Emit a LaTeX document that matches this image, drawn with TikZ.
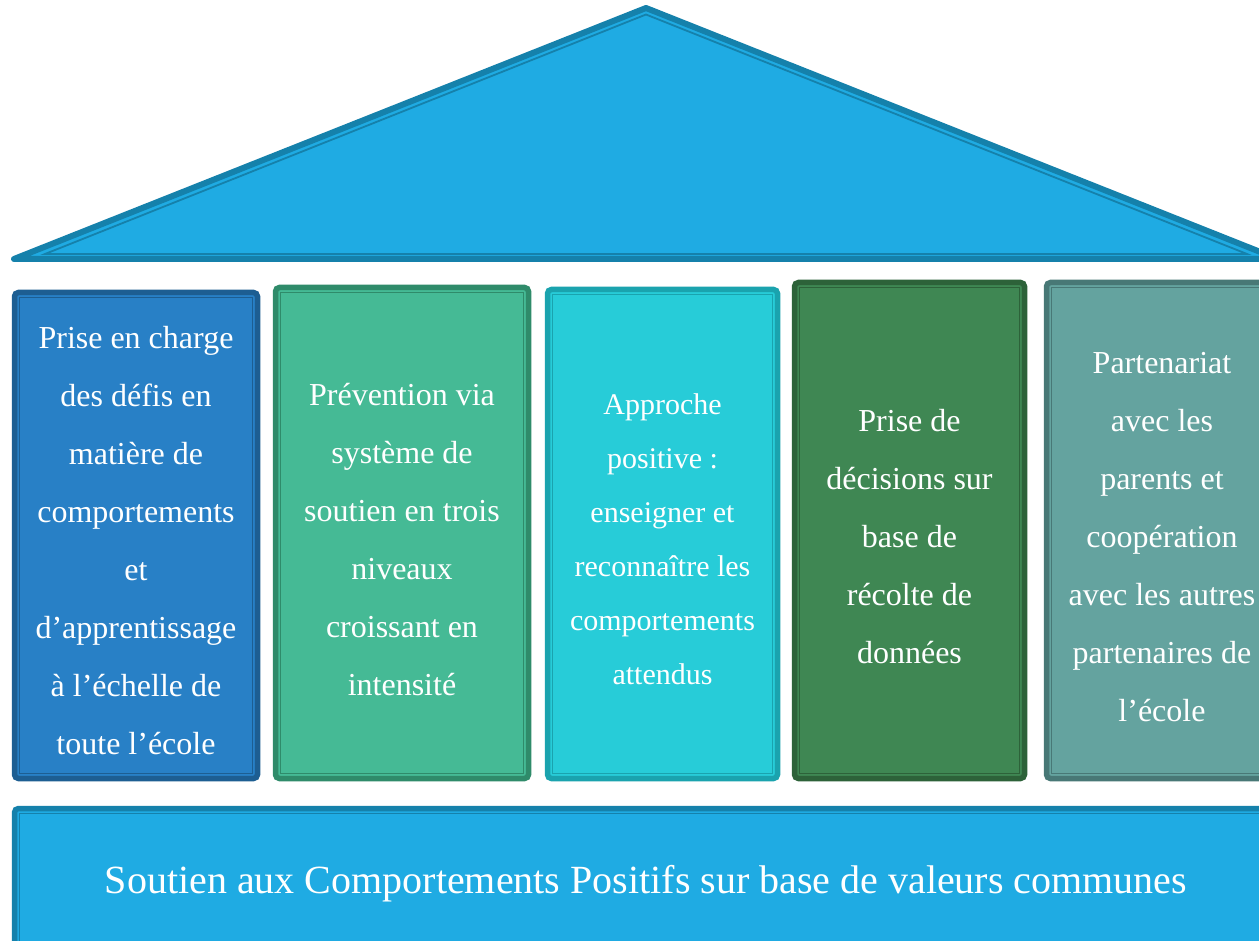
\documentclass[tikz,border=0pt]{standalone}
\usepackage{fontspec}
\setmainfont{Liberation Serif}
\definecolor{roofF}{HTML}{1FABE3}
\definecolor{roofD}{HTML}{1581AB}
\definecolor{aF}{HTML}{2880C6}
\definecolor{aD}{HTML}{1D5E92}
\definecolor{bF}{HTML}{45BA95}
\definecolor{bD}{HTML}{2F8B6A}
\definecolor{cF}{HTML}{27CCD8}
\definecolor{cD}{HTML}{1AA3AE}
\definecolor{dF}{HTML}{3F8753}
\definecolor{dD}{HTML}{2D6239}
\definecolor{eF}{HTML}{64A39F}
\definecolor{eD}{HTML}{487876}
\begin{document}
\begin{tikzpicture}[x=1pt,y=-1pt,
  pillar/.style 2 args={rectangle, rounded corners=4pt, line width=5.5pt, fill=#1, draw=#2,
    inner sep=0pt,
    path picture={\draw[#2, line width=1.8pt, sharp corners]
      ([shift={(5pt,-5pt)}]path picture bounding box.north west) rectangle
      ([shift={(-5pt,5pt)}]path picture bounding box.south east);}},
  ptext/.style={text=white, align=center, inner sep=0pt, font=\fontsize{32}{58}\selectfont},
  roofstyle/.style={fill=roofF, draw=roofD, line width=6pt, line join=round},
  roofinner/.style={draw=roofD, line width=1.8pt, line join=miter}]
\useasboundingbox (0,0) rectangle (1259,941);
\clip (0,0) rectangle (1259,941);
\fill[white] (0,0) rectangle (1259,941);
% roof
\path[roofstyle] (646,8) coordinate (apex) -- (14,259) coordinate (rl) -- (1278,259) coordinate (rr) -- cycle;
\draw[roofinner] (646,14.5) coordinate (iapex) -- (45,254) coordinate (irl) -- (1247,254) coordinate (irr) -- cycle;
% pillars
\node[pillar={aF}{aD}, minimum width=243pt, minimum height=486pt] (p1) at (136,535.5) {};
\node[pillar={bF}{bD}, minimum width=253pt, minimum height=491pt] (p2) at (402,533) {};
\node[pillar={cF}{cD}, minimum width=230pt, minimum height=489pt] (p3) at (662.5,534) {};
\node[pillar={dF}{dD}, minimum width=230pt, minimum height=496pt] (p4) at (909.5,530.5) {};
\node[pillar={eF}{eD}, minimum width=231pt, minimum height=496pt] (p5) at (1162,530.5) {};
% pillar texts
\node[ptext] (t1) at ([yshift=-5.5pt]p1.center)
  {Prise en charge\\des défis en\\matière de\\comportements\\et\\d’apprentissage\\à l’échelle de\\toute l’école};
\node[ptext] (t2) at ([yshift=-7pt]p2.center)
  {Prévention via\\système de\\soutien en trois\\niveaux\\croissant en\\intensité};
\node[ptext, font=\fontsize{30}{54}\selectfont] (t3) at ([yshift=-5pt]p3.center)
  {Approche\\positive :\\enseigner et\\reconnaître les\\comportements\\attendus};
\node[ptext] (t4) at ([yshift=-6pt]p4.center)
  {Prise de\\décisions sur\\base de\\récolte de\\données};
\node[ptext] (t5) at ([yshift=-7pt]p5.center)
  {Partenariat\\avec les\\parents et\\coopération\\avec les autres\\partenaires de\\l’école};
% base
\node[pillar={roofF}{roofD}, minimum width=1263pt, minimum height=144pt] (base) at (646,880.5) {};
\node[ptext, font=\fontsize{40}{48}\selectfont] (tb) at ([yshift=-3pt]base.center)
  {Soutien aux Comportements Positifs sur base de valeurs communes};
\end{tikzpicture}
\end{document}
